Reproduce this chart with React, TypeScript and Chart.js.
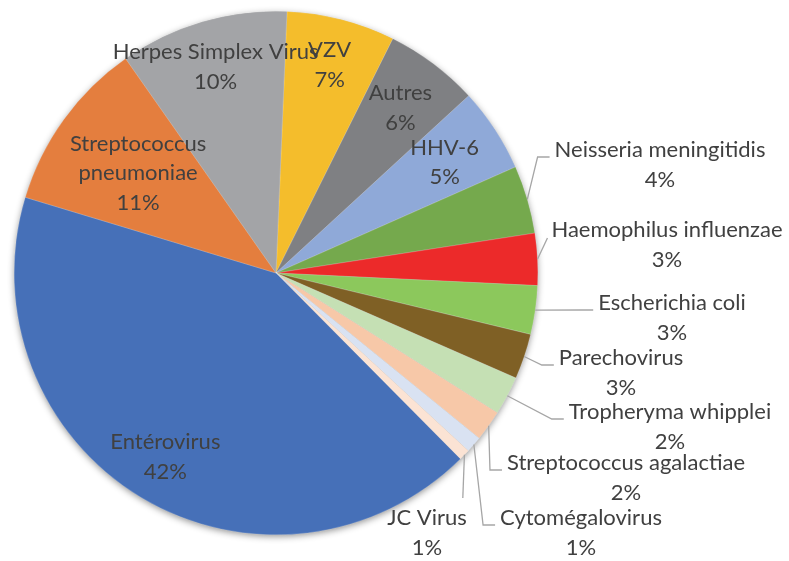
import React, { useEffect, useRef } from "react";
import { Chart, registerables } from "chart.js";

Chart.register(...registerables);

// ---- Data ----
const categories = [
  "VZV",
  "Autres",
  "HHV-6",
  "Neisseria meningitidis",
  "Haemophilus influenzae",
  "Escherichia coli",
  "Parechovirus",
  "Tropheryma whipplei",
  "Streptococcus agalactiae",
  "Cytomégalovirus",
  "JC Virus",
  "Entérovirus",
  "Streptococcus pneumoniae",
  "Herpes Simplex Virus",
];
const shares = [6.7, 5.8, 5.2, 4.2, 3.2, 3.0, 2.8, 2.4, 1.9, 1.0, 0.7, 42.1, 10.6, 10.4];

// ---- Styles ----
const sliceColors = [
  "#F4BD2C",
  "#7F8083",
  "#8FA9D8",
  "#75A94D",
  "#EC2A2A",
  "#8CC85C",
  "#7F6025",
  "#C5E0B4",
  "#F7C8A8",
  "#D9E2F2",
  "#FBE3D4",
  "#4670B8",
  "#E47E3E",
  "#A3A4A7",
];

type LabelLayout =
  | { inside: true; r: number; wrap?: boolean }
  | { inside: false; dx: number; dy: number; leader: "elbow" | "direct" | "top" };

const labelLayout: LabelLayout[] = [
  { inside: true, r: 0.82 },
  { inside: true, r: 0.79 },
  { inside: true, r: 0.77 },
  { inside: false, dx: 384, dy: -123, leader: "elbow" },
  { inside: false, dx: 391, dy: -43, leader: "direct" },
  { inside: false, dx: 396, dy: 30, leader: "elbow" },
  { inside: false, dx: 345, dy: 85, leader: "elbow" },
  { inside: false, dx: 394, dy: 139, leader: "elbow" },
  { inside: false, dx: 350, dy: 190, leader: "elbow" },
  { inside: false, dx: 305, dy: 245, leader: "elbow" },
  { inside: false, dx: 151, dy: 245, leader: "top" },
  { inside: true, r: 0.82 },
  { inside: true, r: 0.65, wrap: true },
  { inside: true, r: 0.82 },
];

const FONT = '22px Lato, "Open Sans", sans-serif';
const TEXT_COLOR = "#404040";
const LINE_COLOR = "#A6A6A6";
const LINE_H = 29.5;

const shadowPlugin = {
  id: "pieShadow",
  beforeDatasetsDraw(chart: any) {
    const meta = chart.getDatasetMeta(0);
    const arc = meta.data[0];
    if (!arc) return;
    const { x, y, outerRadius } = arc.getProps(["x", "y", "outerRadius"], true);
    const ctx = chart.ctx;
    ctx.save();
    ctx.shadowColor = "rgba(0,0,0,0.45)";
    ctx.shadowBlur = 7;
    ctx.shadowOffsetX = 0;
    ctx.shadowOffsetY = 2;
    ctx.fillStyle = "#888";
    ctx.beginPath();
    ctx.arc(x, y, outerRadius - 0.5, 0, Math.PI * 2);
    ctx.fill();
    ctx.restore();
  },
};

const labelPlugin = {
  id: "pieLabels",
  afterDatasetsDraw(chart: any) {
    const ctx = chart.ctx;
    const meta = chart.getDatasetMeta(0);
    const total = shares.reduce((a, b) => a + b, 0);
    ctx.save();
    ctx.font = FONT;
    ctx.fillStyle = TEXT_COLOR;
    ctx.textAlign = "center";
    ctx.textBaseline = "middle";
    meta.data.forEach((arc: any, i: number) => {
      const p = arc.getProps(["x", "y", "startAngle", "endAngle", "outerRadius"], true);
      const mid = (p.startAngle + p.endAngle) / 2;
      const pct = Math.round((shares[i] / total) * 100) + "%";
      const lay = labelLayout[i];
      let lines: string[];
      if (lay.inside && lay.wrap) lines = [...categories[i].split(" "), pct];
      else lines = [categories[i], pct];
      let cx: number, firstY: number;
      if (lay.inside) {
        const rr = p.outerRadius * lay.r;
        cx = p.x + Math.cos(mid) * rr;
        const cy = p.y + Math.sin(mid) * rr;
        firstY = cy - ((lines.length - 1) * LINE_H) / 2;
      } else {
        cx = p.x + lay.dx;
        firstY = p.y + lay.dy;
        const w1 = ctx.measureText(lines[0]).width;
        const left = cx - w1 / 2;
        const right = cx + w1 / 2;
        const sx = p.x + Math.cos(mid) * p.outerRadius;
        const sy = p.y + Math.sin(mid) * p.outerRadius;
        ctx.save();
        ctx.strokeStyle = LINE_COLOR;
        ctx.lineWidth = 1.3;
        ctx.beginPath();
        ctx.moveTo(sx, sy);
        if (lay.leader === "elbow") {
          const ax = left - 5;
          const ay = firstY + 7;
          ctx.lineTo(ax - 12, ay);
          ctx.lineTo(ax, ay);
        } else if (lay.leader === "direct") {
          ctx.lineTo(left - 4, firstY + 8);
        } else {
          ctx.lineTo(right - 4, firstY - 20);
        }
        ctx.stroke();
        ctx.restore();
      }
      lines.forEach((t, k) => ctx.fillText(t, cx, firstY + k * LINE_H));
    });
    ctx.restore();
  },
};

export default function App() {
  const ref = useRef<HTMLCanvasElement | null>(null);
  useEffect(() => {
    document.body.style.margin = "0";
    const canvas = ref.current;
    if (!canvas) return;
    const chart = new Chart(canvas, {
      type: "pie",
      data: {
        labels: categories,
        datasets: [
          {
            data: shares,
            backgroundColor: sliceColors,
            borderColor: "rgba(255,255,255,0.6)",
            borderWidth: 0.3,
          },
        ],
      },
      options: {
        responsive: false,
        animation: false,
        rotation: 2.4,
        layout: { padding: { left: 14, right: 251, top: 11, bottom: 26 } },
        plugins: {
          legend: { display: false },
          tooltip: { enabled: false },
        },
      },
      plugins: [shadowPlugin, labelPlugin],
    });
    return () => chart.destroy();
  }, []);
  return (
    <div style={{ position: "absolute", left: 0, top: 0, width: 789, height: 561, background: "#fff" }}>
      <canvas ref={ref} width={789} height={561} style={{ width: 789, height: 561, display: "block" }} />
    </div>
  );
}
